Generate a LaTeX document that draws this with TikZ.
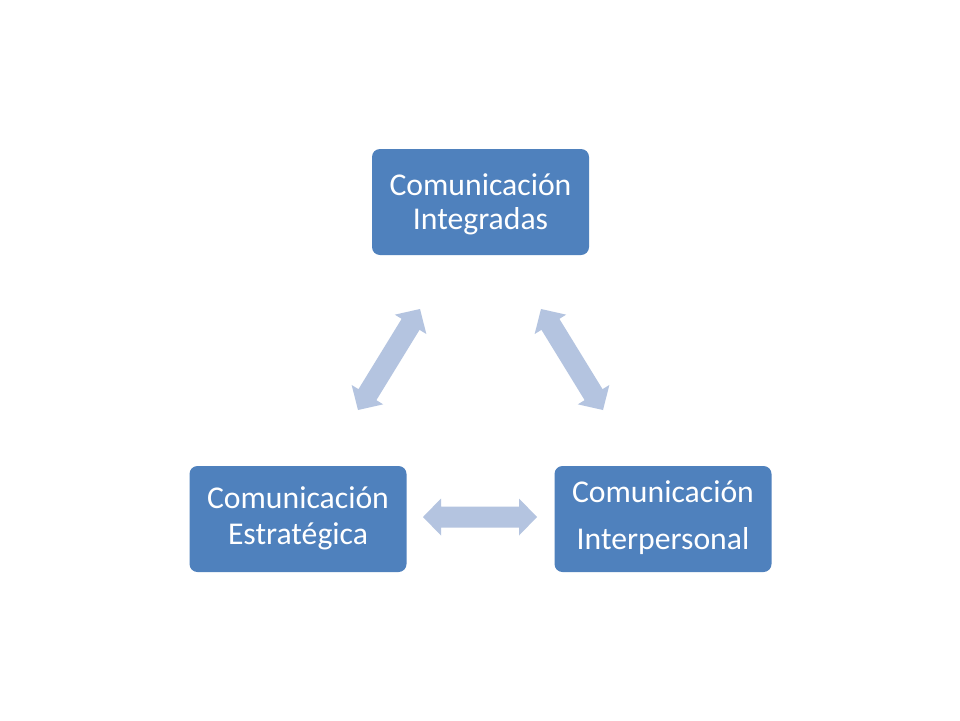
\documentclass[tikz,border=0pt]{standalone}
\usepackage{fontspec}
\setmainfont{Carlito}
\usetikzlibrary{calc}
\definecolor{boxblue}{HTML}{4F81BD}
\definecolor{arrowblue}{HTML}{B4C4E0}
\tikzset{
  box/.style={fill=boxblue, rounded corners=8pt, minimum width=217pt, minimum height=106pt, inner sep=0pt},
  lbl/.style={text=white, font=\fontsize{31.7}{35}\selectfont, anchor=base, inner sep=0pt},
  blockarrow/.style={fill=arrowblue, draw=none}
}
% double block arrow between two named coordinates
\newcommand{\dblblockarrow}[2]{%
  \fill[blockarrow]
    (#1)
    -- ($($(#1)!18pt!(#2)$)!18.5pt!90:(#2)$)
    -- ($($(#1)!18pt!(#2)$)!10.5pt!90:(#2)$)
    -- ($($(#2)!18pt!(#1)$)!10.5pt!-90:(#1)$)
    -- ($($(#2)!18pt!(#1)$)!18.5pt!-90:(#1)$)
    -- (#2)
    -- ($($(#2)!18pt!(#1)$)!18.5pt!90:(#1)$)
    -- ($($(#2)!18pt!(#1)$)!10.5pt!90:(#1)$)
    -- ($($(#1)!18pt!(#2)$)!10.5pt!-90:(#2)$)
    -- ($($(#1)!18pt!(#2)$)!18.5pt!-90:(#2)$)
    -- cycle;}
\begin{document}
\begin{tikzpicture}[x=1pt,y=-1pt]
\useasboundingbox[fill=white] (0,0) rectangle (960,720);
\node[box] (top) at (480.5,202) {};
\node[box] (left) at (298,519) {};
\node[box] (right) at (663,519) {};
\node[lbl] (top1) at (480.5,195) {Comunicación};
\node[lbl] (top2) at (480.5,229) {Integradas};
\node[lbl] (left1) at (298,508) {Comunicación};
\node[lbl] (left2) at (298,544) {Estratégica};
\node[lbl] (right1) at (663,502) {Comunicación};
\node[lbl] (right2) at (663,549) {Interpersonal};
\coordinate (a1s) at (358,410);
\coordinate (a1e) at (420,309);
\coordinate (a2s) at (541,309);
\coordinate (a2e) at (603,410);
\coordinate (a3s) at (423,517);
\coordinate (a3e) at (537,517);
\dblblockarrow{a1s}{a1e}
\dblblockarrow{a2s}{a2e}
\dblblockarrow{a3s}{a3e}
\end{tikzpicture}
\end{document}
